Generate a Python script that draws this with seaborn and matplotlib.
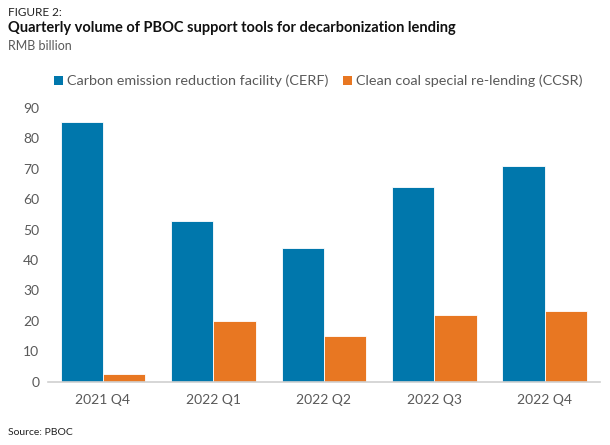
import matplotlib
matplotlib.use("Agg")
import matplotlib.pyplot as plt
import seaborn as sns
import pandas as pd
from matplotlib.patches import Patch

quarters = ["2021 Q4", "2022 Q1", "2022 Q2", "2022 Q3", "2022 Q4"]
cerf = [85.4, 53.0, 44.0, 64.1, 70.8]
ccsr = [2.6, 19.9, 14.9, 22.0, 23.3]
series_names = ["Carbon emission reduction facility (CERF)",
                "Clean coal special re-lending (CCSR)"]
yticks = [0, 10, 20, 30, 40, 50, 60, 70, 80, 90]

df = pd.DataFrame({
    "quarter": quarters * 2,
    "value": cerf + ccsr,
    "series": [series_names[0]] * len(quarters) + [series_names[1]] * len(quarters),
})

sns.set_theme(style="white")
plt.rcParams['font.family'] = ['Lato', 'DejaVu Sans']
colors = ["#0077AC", "#E87722"]
gray = "#595959"

fig = plt.figure(figsize=(6.1, 4.45), dpi=100)
ax = fig.add_axes([0.078, 0.1422, 0.9056, 0.6151])
sns.barplot(data=df, x="quarter", y="value", hue="series", palette=colors,
            saturation=1, width=0.765, ax=ax, edgecolor="white", linewidth=0.6,
            legend=False)

ax.set_ylim(0, 90)
ax.set_xlim(-0.5, 4.5)
ax.set_yticks(yticks)
ax.set_xlabel("")
ax.set_ylabel("")
for s in ["top", "right", "left"]:
    ax.spines[s].set_visible(False)
ax.spines["bottom"].set_color("#d0d0d0")
ax.spines["bottom"].set_linewidth(1.2)
ax.tick_params(axis="both", length=0, labelsize=10, colors=gray, pad=6)
ax.tick_params(axis="x", pad=9)

handles = [Patch(facecolor=c, edgecolor="none") for c in colors]
fig.legend(handles, series_names, loc="center left", bbox_to_anchor=(0.068, 0.818),
           ncol=2, frameon=False, fontsize=10.4, handlelength=0.6, handleheight=0.6,
           handletextpad=0.3, columnspacing=1.0, labelcolor=gray)

fig.text(0.013, 0.973, "FIGURE 2:", fontsize=8.5, color="#222222", va="center", ha="left")
fig.text(0.013, 0.937, "Quarterly volume of PBOC support tools for decarbonization lending",
         fontsize=10.5, fontweight="bold", color="#111111", va="center", ha="left")
fig.text(0.013, 0.897, "RMB billion", fontsize=9, color=gray, va="center", ha="left")
fig.text(0.013, 0.027, "Source: PBOC", fontsize=7.5, color="#222222", va="center", ha="left")

fig.savefig("out.png", dpi=100, facecolor="white")
